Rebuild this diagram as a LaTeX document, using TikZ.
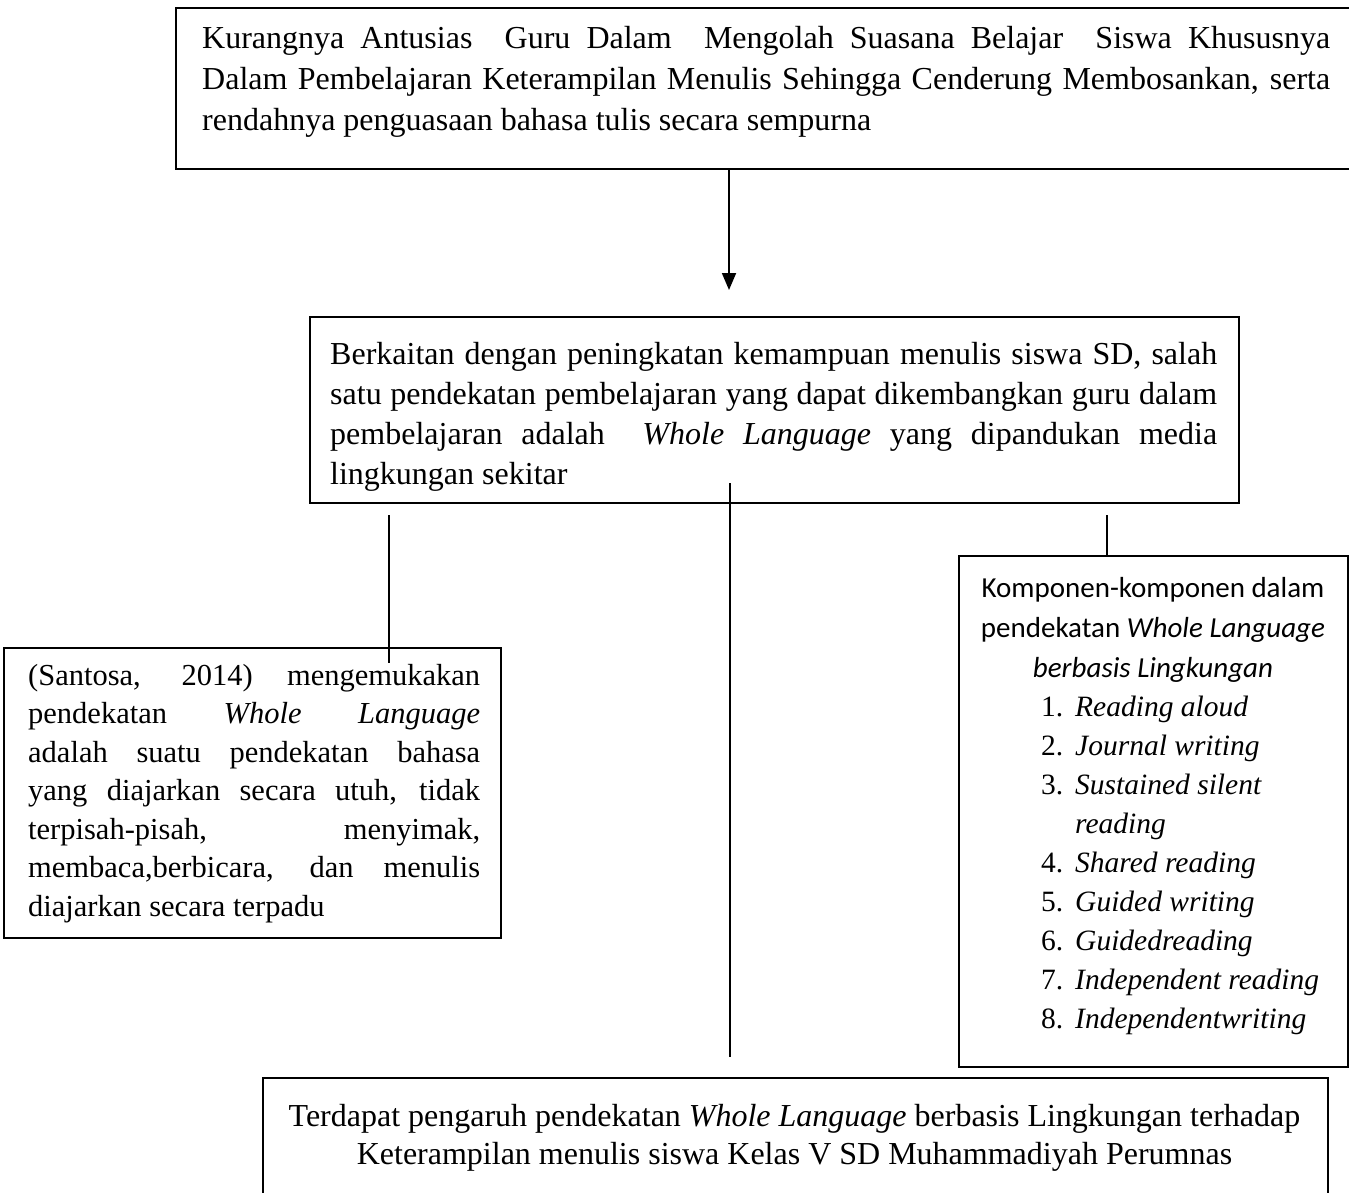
\documentclass[tikz,border=0pt]{standalone}
\usepackage{fontspec}
\setmainfont{Liberation Serif}
\newfontfamily\hdrfont{Carlito}
\usetikzlibrary{arrows.meta}
\begin{document}
\begin{tikzpicture}[x=1pt,y=-1pt,
  box/.style={draw, line width=1.7pt, rectangle, inner sep=0pt, anchor=north west},
  conn/.style={line width=1.8pt},
  jtxt/.style={inner sep=0pt, anchor=north west, align=justify},
  ctxt/.style={inner sep=0pt, align=center},
  big/.style={font=\fontsize{32}{41}\selectfont},
]
\useasboundingbox (0,0) rectangle (1349,1193);
\tolerance=10000 \hyphenpenalty=10000

% boxes
\node[box, minimum width=1190pt, minimum height=161pt] (topbox) at (175,7) {};
\node[box, minimum width=929pt, minimum height=186pt] (midbox) at (309,316) {};
\node[box, minimum width=497pt, minimum height=290pt] (leftbox) at (3,647) {};
\node[box, minimum width=389pt, minimum height=511pt] (rightbox) at (958,555) {};
\node[box, minimum width=1065pt, minimum height=150pt] (botbox) at (262,1077) {};

% texts
\node[jtxt, big, text width=1128pt] (toptext) at (202,26) {Kurangnya Antusias \ Guru Dalam \ Mengolah Suasana Belajar \ Siswa Khususnya\linebreak Dalam Pembelajaran Keterampilan Menulis Sehingga Cenderung Membosankan, serta\linebreak rendahnya penguasaan bahasa tulis secara sempurna};

\node[jtxt, font=\fontsize{32}{40}\selectfont, text width=887pt] (midtext) at (330,342) {Berkaitan dengan peningkatan kemampuan menulis siswa SD, salah\linebreak satu pendekatan pembelajaran yang dapat dikembangkan guru dalam\linebreak pembelajaran adalah \ \textit{Whole Language} yang dipandukan media\linebreak lingkungan sekitar};

\node[jtxt, font=\fontsize{30.5}{38.5}\selectfont, text width=452pt] (lefttext) at (28,664) {(Santosa, 2014) mengemukakan\linebreak pendekatan \textit{Whole Language}\linebreak adalah suatu pendekatan bahasa\linebreak yang diajarkan secara utuh, tidak\linebreak terpisah-pisah, menyimak,\linebreak membaca,berbicara, dan menulis\linebreak diajarkan secara terpadu};

\node[ctxt, anchor=north, font=\hdrfont\fontsize{29}{40}\selectfont] (hdrtext) at (1153,577) {Komponen-komponen dalam\\pendekatan \textit{Whole Language}\\\textit{berbasis Lingkungan}};

\node[inner sep=0pt, anchor=north west, font=\fontsize{29.5}{39}\selectfont] (listtext) at (1041,689) {%
\begin{tabular}{@{}p{34pt}@{}l@{}}
1. & \textit{Reading aloud}\\
2. & \textit{Journal writing}\\
3. & \textit{Sustained silent}\\
   & \textit{reading}\\
4. & \textit{Shared reading}\\
5. & \textit{Guided writing}\\
6. & \textit{Guidedreading}\\
7. & \textit{Independent reading}\\
8. & \textit{Independentwriting}
\end{tabular}};

\node[ctxt, anchor=north, font=\fontsize{32}{38}\selectfont] (bottext) at (794.5,1104) {Terdapat pengaruh pendekatan \textit{Whole Language} berbasis Lingkungan terhadap\\Keterampilan menulis siswa Kelas V SD Muhammadiyah Perumnas};

% connectors
\coordinate (arrowtip) at (729,290);
\draw[conn, -{Triangle[length=17pt,width=14pt]}] (topbox.south -| arrowtip) -- (arrowtip);

\coordinate (lefttop) at (389,515);
\coordinate (leftend) at (389,663);
\draw[conn] (lefttop) -- (leftend);

\coordinate (midtop) at (730,483);
\coordinate (midend) at (730,1057);
\draw[conn] (midtop) -- (midend);

\coordinate (righttop) at (1107,515);
\draw[conn] (righttop) -- (rightbox.north -| righttop);
\end{tikzpicture}
\end{document}
